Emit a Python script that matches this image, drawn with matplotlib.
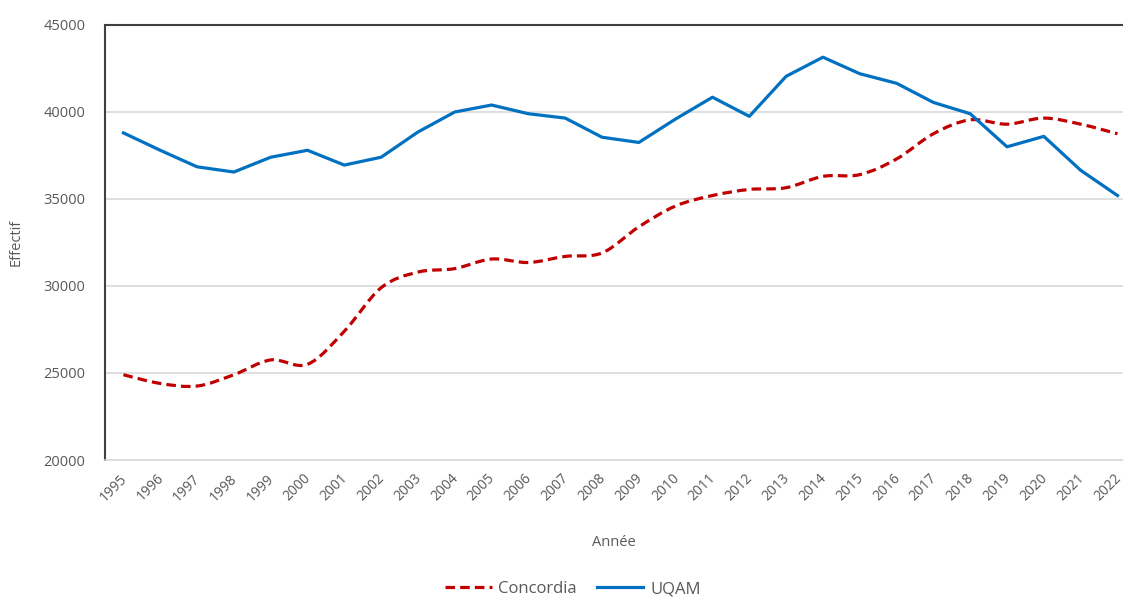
import numpy as np
import matplotlib
matplotlib.use("Agg")
import matplotlib.pyplot as plt
import matplotlib.transforms as mtransforms
from matplotlib.path import Path
from matplotlib.patches import PathPatch
from matplotlib.lines import Line2D

years = list(range(1995, 2023))
concordia = [24900, 24400, 24250, 24900, 25750, 25500, 27400, 29900, 30800, 31000,
             31550, 31350, 31700, 31900, 33400, 34600, 35200, 35550, 35650, 36300,
             36400, 37300, 38750, 39550, 39300, 39650, 39300, 38750]
uqam = [38800, 37800, 36850, 36550, 37400, 37800, 36950, 37400, 38850, 40000,
        40400, 39900, 39650, 38550, 38250, 39600, 40850, 39750, 42050, 43150,
        42200, 41650, 40550, 39900, 38000, 38600, 36650, 35200]

RED = "#C00000"
BLUE = "#0070C0"
GRAY = "#595959"


def smooth_path(x, y):
    # Excel-style smoothed line: cubic Bezier through each point
    p = np.column_stack([x, y]).astype(float)
    n = len(p)
    verts = [p[0]]
    codes = [Path.MOVETO]
    for i in range(n - 1):
        p0 = p[i - 1] if i > 0 else p[i]
        p3 = p[i + 2] if i + 2 < n else p[i + 1]
        c1 = p[i] + (p[i + 1] - p0) / 6
        c2 = p[i + 1] - (p3 - p[i]) / 6
        verts += [c1, c2, p[i + 1]]
        codes += [Path.CURVE4] * 3
    return Path(verts, codes)


def main():
    plt.rcParams["font.family"] = ["Open Sans", "DejaVu Sans"]
    fig = plt.figure(figsize=(11.23, 5.99), dpi=100)
    ax = fig.add_axes([105 / 1123, 1 - 460 / 599, 1 - 105 / 1123, (460 - 25) / 599])

    patch = PathPatch(smooth_path(years, concordia), fill=False, edgecolor=RED,
                      linewidth=2.3, linestyle=(0, (3, 1.6)), capstyle="butt", zorder=3)
    ax.add_patch(patch)
    ax.plot(years, uqam, color=BLUE, linewidth=2.3, zorder=3)

    ax.set_xlim(1994.5, 2022.15)
    ax.set_ylim(20000, 45000)
    ax.set_yticks(range(20000, 45001, 5000))
    ax.set_xticks(years)
    ax.set_xticklabels([str(y) for y in years], rotation=45, ha="right",
                       rotation_mode="anchor")
    ax.tick_params(axis="both", length=0, labelsize=10.5, colors=GRAY)
    ax.tick_params(axis="x", pad=8, labelsize=10)
    ax.tick_params(axis="y", pad=14)
    shift = mtransforms.ScaledTranslation(-4 / 100, 0, fig.dpi_scale_trans)
    for lbl in ax.get_xticklabels():
        lbl.set_transform(lbl.get_transform() + shift)
    ax.grid(axis="y", color="#D9D9D9", linewidth=1.2)
    ax.set_axisbelow(True)

    ax.spines["right"].set_visible(False)
    ax.spines["bottom"].set_color("#D9D9D9")
    ax.spines["bottom"].set_linewidth(1.2)
    ax.spines["left"].set_color("#404040")
    ax.spines["top"].set_color("#404040")
    ax.spines["left"].set_linewidth(1.5)
    ax.spines["top"].set_linewidth(1.5)

    ax.set_xlabel("Année", fontsize=10.5, color=GRAY, labelpad=22)
    ax.set_ylabel("Effectif", fontsize=10.5, color=GRAY, labelpad=14)

    handles = [Line2D([], [], color=RED, linewidth=2.3, linestyle=(0, (3, 1.6))),
               Line2D([], [], color=BLUE, linewidth=2.3)]
    leg = fig.legend(handles, ["Concordia", "UQAM"], loc="center",
                     bbox_to_anchor=(0.51, 1 - 589 / 599), ncol=2, frameon=False,
                     fontsize=12, handlelength=2.8, columnspacing=1.2, handletextpad=0.4)
    for t in leg.get_texts():
        t.set_color(GRAY)

    fig.savefig("out.png", dpi=100)


if __name__ == "__main__":
    main()
